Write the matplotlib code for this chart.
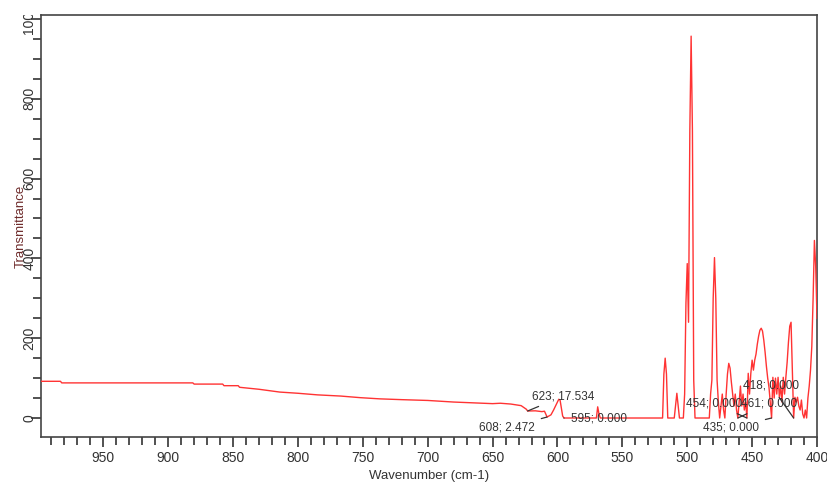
import matplotlib
matplotlib.use("Agg")
import matplotlib.pyplot as plt
from matplotlib.ticker import MultipleLocator
from matplotlib.patches import Rectangle

plt.rcParams['font.family'] = ['Liberation Sans', 'DejaVu Sans']

# Spectrum (wavenumber in cm-1, transmittance)
wavenumber = [998, 983, 982, 881, 880, 858, 857, 846, 845, 830, 814, 800, 785, 767, 752,
              737, 720, 700, 680, 665, 650, 644, 636, 628, 624, 623, 617, 612, 610, 608,
              605, 603, 599, 598, 596, 595, 570, 569, 568, 567,
              519, 518, 517, 516, 515, 510, 509, 508, 507, 506,
              503, 502, 501, 500, 499, 498, 497, 496, 495, 494,
              483, 482, 481, 480, 479, 478, 477, 476, 475, 474, 473, 472, 471, 470,
              469, 468, 467, 466, 465, 464, 463, 462, 461, 460, 459, 458, 457, 456,
              455, 454, 453, 452, 451, 450, 449, 448, 447, 446, 445, 444, 443, 442,
              441, 440, 439, 438, 437, 436, 435, 434, 433, 432, 431, 430, 429, 428,
              427, 426, 425, 424, 423, 422, 421, 420, 419, 418, 417, 416, 415, 414,
              413, 412, 411, 410, 409, 408, 407, 406, 405, 404, 403, 402, 401, 400]
transmittance = [92, 92, 88, 88, 85, 85, 81, 81, 77, 72, 65, 62, 58, 55, 51,
                 48, 46, 44, 40, 38, 36, 37, 35, 31, 22, 17.534, 18, 16, 17, 2.472,
                 8, 20, 47, 45, 5, 0, 0, 28, 10, 0,
                 0, 110, 150, 110, 0, 0, 30, 62, 30, 0,
                 0, 60, 287, 387, 240, 720, 957, 720, 95, 0,
                 0, 60, 95, 300, 402, 300, 95, 40, 0, 30, 60, 20, 0, 60,
                 110, 137, 125, 90, 60, 30, 60, 20, 0, 40, 80, 30, 60, 20,
                 40, 0, 112, 60, 112, 145, 120, 145, 160, 185, 205, 220, 225, 218,
                 195, 165, 130, 100, 77, 40, 0, 102, 50, 100, 60, 102, 52, 80,
                 40, 102, 60, 102, 140, 190, 230, 240, 120, 0, 52, 40, 52, 30,
                 20, 45, 10, 0, 20, 0, 50, 80, 120, 180, 300, 445, 380, 250]

# Peak labels: (wavenumber, value, label x, label y)
peak_wn = [623, 608, 595, 454, 418, 461, 435]
peak_val = [17.534, 2.472, 0.000, 0.000, 0.000, 0.000, 0.000]
label_x = [595.3, 639.2, 568.0, 479.7, 435.8, 436.6, 466.6]
label_y = [55, -25, 0, 37, 82, 37, -25]

fig = plt.figure(figsize=(8.27, 4.87), dpi=100)
ax = fig.add_axes([41/827, 50/487, (817-41)/827, (437-15)/487])

ax.plot(wavenumber, transmittance, color='#ff3333', lw=1.0, zorder=3)

for wn, val, lx, ly in zip(peak_wn, peak_val, label_x, label_y):
    ax.annotate(f"{wn}; {val:.3f}", xy=(wn, val), xytext=(lx, ly),
                textcoords='data', ha='center', va='center', fontsize=8.5,
                color='#333333', zorder=4,
                arrowprops=dict(arrowstyle='-', color='#333333', lw=0.9,
                                shrinkA=3, shrinkB=0))

ax.set_xlim(998, 400)
ax.set_ylim(-47.6, 1010)

ax.xaxis.set_major_locator(MultipleLocator(50))
ax.xaxis.set_minor_locator(MultipleLocator(10))
ax.yaxis.set_major_locator(MultipleLocator(200))
ax.yaxis.set_minor_locator(MultipleLocator(50))

ax.tick_params(axis='both', which='both', direction='out', color='#333333',
               width=1.2, labelcolor='#333333', labelsize=10)
ax.tick_params(axis='both', which='major', length=7)
ax.tick_params(axis='both', which='minor', length=6)
ax.tick_params(axis='x', which='major', pad=3)
ax.tick_params(axis='y', which='major', pad=-3.5)
ax.tick_params(top=False, right=False)
for lbl in ax.get_yticklabels():
    lbl.set_rotation(90)
    lbl.set_va('center')
    lbl.set_ha('right')

for sp in ax.spines.values():
    sp.set_color('#444444')
    sp.set_linewidth(1.2)

ax.set_xlabel('Wavenumber (cm-1)', fontsize=9.5, color='#333333', labelpad=4)
ax.set_ylabel('Transmittance', fontsize=9.5, color='#6e2b2b')
ax.yaxis.set_label_coords(-0.019, 0.5)

# the software clips the top tick label at the plot frame
fig.add_artist(Rectangle((0, 472/487), 41/827 - 0.002, 15/487, transform=fig.transFigure,
                         facecolor='white', edgecolor='none', zorder=10))

fig.savefig('out.png', dpi=100)
